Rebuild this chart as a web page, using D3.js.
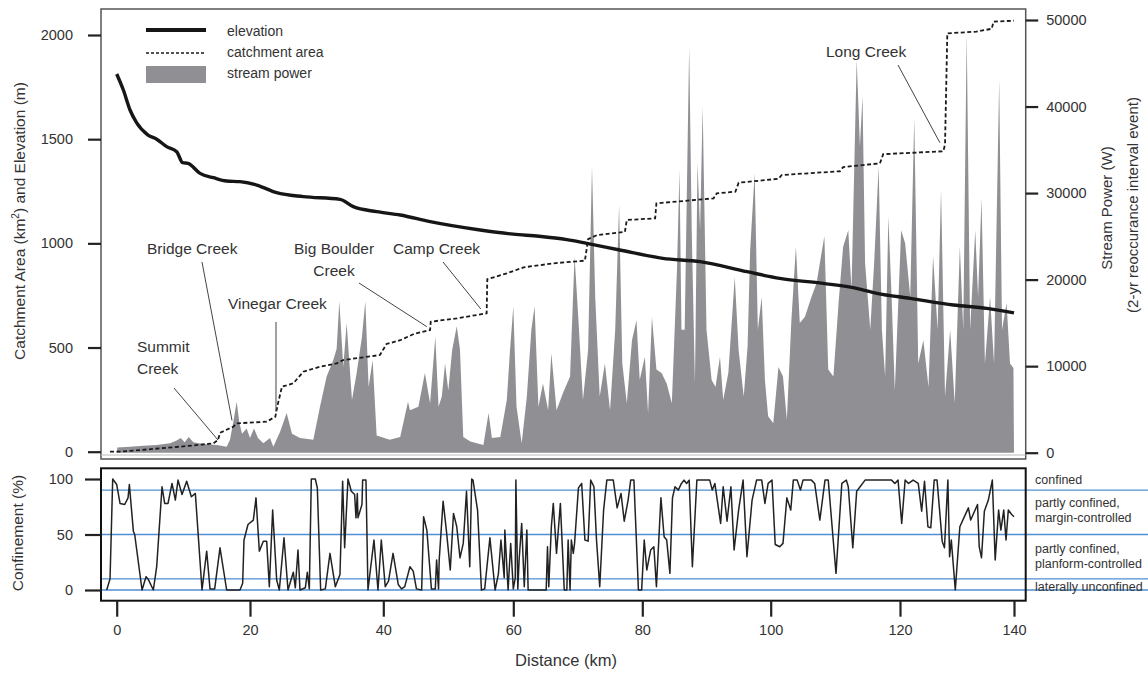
<!DOCTYPE html>
<html>
<head>
<meta charset="utf-8">
<script src="https://cdn.jsdelivr.net/npm/d3@7/dist/d3.min.js"></script>
<style>
body{margin:0;background:#fff;}
svg text{font-family:"Liberation Sans",Arial,sans-serif;fill:#333;}
</style>
</head>
<body>
<script>
// [distance km, elevation m]
const elevation = [[0,1813],[1,1736],[2,1640],[3,1578],[4.7,1520],[6,1500],[7.5,1464],[9,1440],[9.9,1387],[10.7,1384],
  [12.5,1336],[14.5,1315],[16.5,1299],[18.5,1296],[21,1280],[24,1243],[28,1224],[33.5,1211],[35.5,1176],[39,1152],
  [42.6,1136],[47.2,1104],[54.9,1064],[60,1044],[64,1034],[68.3,1018],[71.4,1000],[76.5,968],[83.2,928],[89,912],
  [96.3,864],[101.4,832],[108.1,808],[113.3,784],[116.4,760],[121.8,736],[129.4,704],[135.2,688],[140,666]];

// [distance km, catchment area km2]
const catchment = [[-1,0],[0.5,0],[6.5,16],[10.5,27],[14.5,40],[15.2,56],[15.5,91],[17.5,120],[18,136],[22.5,144],
  [23.8,168],[24.2,232],[24.8,312],[26.5,328],[28,384],[30.5,408],[33,424],[34,440],[39.5,464],[40.5,517],
  [42.6,535],[44.7,565],[47.2,584],[47.3,624],[51.3,640],[55.9,664],[56,828],[59,856],[61.6,885],[66.2,904],
  [71.1,917],[71.6,1020],[73,1040],[77.3,1055],[77.6,1112],[82,1120],[82.2,1192],[91.1,1216],[91.6,1240],[94.5,1248],
  [95,1291],[101.2,1310],[101.7,1328],[110.7,1346],[111.2,1366],[116.9,1384],[117.4,1428],[127.6,1442],[127.9,1475],
  [128.3,2008],[133.4,2016],[136.1,2030],[136.4,2064],[140,2069]];

// [distance km, stream power W]
const streamPower = [[0,0],[0.1,600],[2,700],[4,800],[6,900],[8,1100],[9,1400],[9.6,1700],[10.2,1200],[10.8,1800],
  [11.5,1200],[13,1000],[15,900],[16.5,700],[17,1500],[17.6,4000],[18,5900],[18.4,3500],[18.8,2200],[19.5,2800],
  [20,1700],[20.6,2800],[21.2,1700],[22,1100],[23,1700],[23.5,700],[24.5,2400],[25.5,4600],[26.3,2200],[27.5,1700],
  [29.5,1500],[30.5,5300],[31.5,8800],[32.5,10700],[33,12000],[33.4,17500],[34,9900],[34.5,15000],[35.3,6100],[36,9200],
  [36.8,13400],[37.3,17500],[37.8,7600],[38.4,10700],[39,2000],[41,1500],[42.6,1800],[43.8,5900],[44.1,4900],[45.4,5300],
  [46.4,9200],[47.2,5700],[48,13400],[48.5,5300],[49,6500],[49.5,10300],[50,7200],[50.6,11900],[51.3,14600],[51.8,11900],
  [52.3,1800],[53.4,1300],[55.4,900],[56.2,4600],[56.7,1700],[58,1800],[59,6100],[59.5,11900],[60,16900],[60.5,5300],
  [61.3,1100],[62.1,6500],[62.8,14200],[63.3,16900],[63.9,5300],[64.6,8000],[65.4,4900],[65.9,11500],[66.7,4900],[67.7,6900],
  [68.8,8800],[69.5,22700],[70.1,15300],[70.8,6100],[71.6,11900],[72.2,33100],[72.7,18000],[73.4,6500],[74.2,10300],[75,4900],
  [75.8,14200],[76.4,28600],[76.9,10300],[77.6,5700],[78.4,13000],[79.1,15300],[79.6,8400],[80.4,11100],[80.9,4600],[81.5,15700],
  [82.2,9600],[83,9200],[83.8,8000],[84.6,5700],[85.4,21100],[85.8,32700],[86.1,14200],[86.6,14200],[87.3,46900],[87.7,25700],
  [88.2,8000],[88.6,33500],[89,25700],[89.4,40000],[90,14200],[90.8,8400],[91.4,7600],[92.1,11100],[92.6,6100],[93.4,9200],
  [94.4,20300],[95,11900],[95.8,6500],[96.4,12300],[96.8,23400],[97.5,32300],[98,14200],[98.6,18000],[99.1,8400],[99.6,4200],
  [100.4,3400],[101.2,9900],[101.9,8800],[102.5,3800],[103.2,15300],[103.9,23800],[104.5,15000],[105.3,15700],[106.3,18000],[107.1,19600],
  [107.6,21900],[108.3,25000],[108.9,9600],[109.7,8800],[110.5,17300],[111.2,23800],[112,25700],[112.5,18800],[113.3,45400],[113.8,35400],
  [114.2,41200],[114.6,21900],[115.4,14200],[116,21900],[116.7,33100],[117.2,14200],[117.7,8800],[118.2,27300],[118.7,18000],[119.2,7200],
  [120.2,25700],[120.9,24200],[121.8,18000],[122.5,38700],[123.2,10300],[124.1,13000],[125,7600],[125.8,22700],[126.6,14200],[127.2,30400],
  [127.9,6500],[128.8,14200],[129.6,5700],[130.5,23800],[131.1,14200],[131.7,48500],[132.3,14200],[133.2,25700],[133.7,18000],[134.3,29400],
  [134.9,10300],[135.8,18000],[136.5,10300],[137.4,43100],[137.9,14200],[138.7,17300],[139.3,10300],[139.9,9800],[140,0]];

// [distance km, confinement %]
const confinement = [[-1.5,0],[-1,10],[-0.6,100],[0,95],[0.5,78],[1.2,77],[1.7,83],[1.9,95],[2.5,53],[2.7,50],
  [3.8,0],[4.4,12],[4.7,10],[5.5,0],[6,21],[6.8,93],[7.2,78],[7.7,78],[8.3,96],[8.8,81],[9.2,99],[9.8,86],[10.5,98],
  [11.2,84],[11.8,87],[12.8,0],[13.5,35],[14,1],[14.7,1],[15.5,38],[16.5,0],[18.5,0],[18.9,6],[19.1,45],[19.7,59],
  [20.5,63],[20.9,83],[21.4,35],[22,44],[22.5,44],[22.9,3],[23.4,72],[24,9],[24.4,0],[25.1,47],[25.7,0],[26.5,16],
  [26.8,2],[27.2,36],[27.5,0],[28.3,2],[28.6,16],[28.9,1],[29.2,100],[29.8,100],[30.1,92],[30.6,0],[31.3,1],[32,33],
  [32.8,3],[33.5,14],[33.9,98],[34.2,38],[34.7,100],[35.2,89],[35.7,86],[35.9,65],[36.1,87],[36.2,65],[36.8,77],
  [36.9,99],[37.4,99],[37.7,0],[38.6,45],[39.2,0],[39.7,45],[40.3,3],[40.8,8],[41.5,33],[42.3,5],[42.8,1],[43.3,3],
  [44.1,21],[44.6,17],[45.1,1],[45.9,0],[46.2,66],[46.7,54],[47.4,1],[48,1],[48.2,27],[48.5,1],[48.6,27],[49.2,80],
  [49.7,54],[50.3,18],[50.8,69],[51.3,57],[51.8,29],[52.3,42],[52.8,89],[53.3,21],[53.6,100],[53.8,99],[54.5,72],
  [55.1,0],[55.6,1],[56.4,47],[57.2,0],[57.7,14],[58.1,45],[58.6,11],[58.7,54],[59.2,0],[59.6,42],[60,1],[60.3,11],
  [60.4,99],[60.7,1],[60.9,27],[61.3,60],[61.7,3],[62.1,54],[62.3,0],[65.1,0],[65.3,39],[65.5,3],[65.9,57],[66.2,78],
  [66.7,33],[67.3,78],[67.9,0],[68.3,0],[68.5,45],[68.8,0],[69,45],[69.3,33],[69.5,42],[70.1,92],[70.6,96],[71.1,45],
  [71.6,44],[72,99],[72.5,93],[72.9,45],[73.4,3],[74,72],[74.5,99],[75.5,99],[76.1,74],[76.7,87],[77.2,62],[77.8,81],
  [78.2,99],[78.7,99],[79.4,0],[79.9,0],[80.3,45],[80.7,18],[81.3,36],[81.8,39],[82.2,3],[82.9,83],[83.4,48],[83.8,45],
  [84.3,15],[84.7,83],[85.1,93],[85.6,90],[86.1,96],[86.5,99],[86.9,96],[87.3,99],[87.8,21],[88.5,99],[90.5,99],
  [90.9,90],[91.3,96],[92.2,60],[92.6,93],[93.2,62],[93.8,93],[94.3,36],[95,72],[95.7,99],[96.3,30],[97.1,81],[97.8,99],
  [98.6,99],[99.1,78],[99.6,96],[100.2,99],[100.7,41],[101.4,39],[101.9,42],[102.5,83],[103.1,72],[103.5,99],[104.1,99],
  [104.6,90],[105,99],[106.3,99],[106.8,96],[107.6,63],[108.4,99],[108.9,99],[110.1,15],[111,96],[111.7,99],[112,93],
  [112.7,38],[113.3,89],[114.6,99],[118.7,99],[119.2,96],[119.7,99],[120.3,60],[120.9,99],[121.5,96],[122.3,99],
  [123.2,96],[123.8,71],[124.3,98],[124.9,57],[125.4,56],[126,99],[126.5,99],[127.4,44],[127.8,38],[128.4,99],[128.7,30],
  [129,45],[129.7,0],[130.5,57],[131.2,65],[132,74],[132.4,63],[133.6,77],[133.9,39],[134.3,29],[134.8,71],[135.5,81],
  [136.2,99],[136.7,27],[137.3,72],[137.7,54],[138.2,72],[138.6,45],[139,72],[139.6,68],[140,66]];

const areaTicks = [0, 500, 1000, 1500, 2000];
const powerTicks = [0, 10000, 20000, 30000, 40000, 50000];
const distTicks = [0, 20, 40, 60, 80, 100, 120, 140];
const confTicks = [0, 50, 100];
const classBreaks = [90, 50, 10, 0];
const classLabels = [["confined"], ["partly confined,", "margin-controlled"], ["partly confined,", "planform-controlled"], ["laterally unconfined"]];
const creeks = [
  {name: ["Summit", "Creek"], km: 15.2, area: 56},
  {name: ["Bridge Creek"], km: 17.3, area: 150},
  {name: ["Vinegar Creek"], km: 23.9, area: 192},
  {name: ["Big Boulder", "Creek"], km: 46.7, area: 600},
  {name: ["Camp Creek"], km: 55.0, area: 685},
  {name: ["Long Creek"], km: 127.0, area: 1483}
];

const W = 1148, H = 673;
const left = 101, right = 1025.7;
const topY0 = 9, topY1 = 459, botY0 = 468.3, botY1 = 600.7;
const grey = "#909094";

const svg = d3.select("body").append("svg").attr("width", W).attr("height", H);

// the distance ticks in the original are not evenly spaced, so map each one
const x = d3.scaleLinear().domain(distTicks).range([116.7, 250, 383.3, 513.3, 642.3, 770.7, 900, 1014]);
const yArea = d3.scaleLinear().domain([0, 2000]).range([451.7, 35]);
const yPow = d3.scaleLinear().domain([0, 50000]).range([452.7, 20]);
const yConf = d3.scaleLinear().domain([0, 100]).range([590, 479]);

// ---- top panel
const powerArea = d3.area().x(d => x(d[0])).y0(yPow(0)).y1(d => yPow(d[1]));
svg.append("path").datum(streamPower).attr("d", powerArea).attr("fill", grey);

const areaLine = d3.line().x(d => x(d[0])).y(d => yArea(d[1]));
svg.append("path").datum(catchment).attr("d", areaLine)
  .attr("fill", "none").attr("stroke", "#1a1a1a").attr("stroke-width", 1.8).attr("stroke-dasharray", "4,2.5");

svg.append("path").datum(elevation).attr("d", areaLine.curve(d3.curveMonotoneX))
  .attr("fill", "none").attr("stroke", "#161616").attr("stroke-width", 3.4).attr("stroke-linejoin", "round");

svg.append("rect").attr("x", left).attr("y", topY0).attr("width", right - left).attr("height", topY1 - topY0)
  .attr("fill", "none").attr("stroke", "#555").attr("stroke-width", 1.5);
svg.append("line").attr("x1", left).attr("x2", right).attr("y1", topY1 - 4).attr("y2", topY1 - 4)
  .attr("stroke", "#bbb").attr("stroke-width", 1);

function styleAxis(g, size) {
  g.select(".domain").remove();
  g.selectAll(".tick line").attr("stroke", "#222").attr("stroke-width", 2.2);
  g.selectAll(".tick text").style("font-size", size + "px").attr("fill", "#333");
}

svg.append("g").attr("transform", `translate(${left},0)`)
  .call(d3.axisLeft(yArea).tickValues(areaTicks).tickSize(13).tickPadding(15).tickFormat(d3.format("d")))
  .call(g => styleAxis(g, 14.5));

svg.append("g").attr("transform", `translate(${right},0)`)
  .call(d3.axisRight(yPow).tickValues(powerTicks).tickSize(12.5).tickPadding(8).tickFormat(d3.format("d")))
  .call(g => styleAxis(g, 14.5));

// legend
const leg = svg.append("g");
leg.append("line").attr("x1", 146).attr("x2", 206).attr("y1", 30).attr("y2", 30)
  .attr("stroke", "#161616").attr("stroke-width", 4);
leg.append("line").attr("x1", 146).attr("x2", 206).attr("y1", 53).attr("y2", 53)
  .attr("stroke", "#1a1a1a").attr("stroke-width", 1.5).attr("stroke-dasharray", "3,2");
leg.append("rect").attr("x", 146).attr("y", 66).attr("width", 60).attr("height", 17).attr("fill", grey);
["elevation", "catchment area", "stream power"].forEach((t, i) => {
  leg.append("text").attr("x", 227).attr("y", 36 + i * 21).style("font-size", "14px").text(t);
});

// creek labels: text position, start of leader line
const labelPos = [
  {tx: 137, ty: 347, lx: 174, ly: 388, anchor: "start"},
  {tx: 147, ty: 249, lx: 202, ly: 262, anchor: "start"},
  {tx: 228, ty: 304, lx: 276, ly: 322, anchor: "start"},
  {tx: 334, ty: 249, lx: 359, ly: 283, anchor: "middle"},
  {tx: 393, ty: 249, lx: 443, ly: 262, anchor: "start"},
  {tx: 826, ty: 52, lx: 898, ly: 65, anchor: "start"}
];
creeks.forEach((c, i) => {
  const p = labelPos[i];
  svg.append("line").attr("x1", p.lx).attr("y1", p.ly).attr("x2", x(c.km)).attr("y2", yArea(c.area))
    .attr("stroke", "#444").attr("stroke-width", 1);
  c.name.forEach((n, j) => {
    svg.append("text").attr("x", p.tx).attr("y", p.ty + j * 22).attr("dy", "0.35em")
      .attr("text-anchor", p.anchor).style("font-size", "15.5px").text(n);
  });
});

svg.append("text").attr("transform", "translate(20,221) rotate(-90)").attr("text-anchor", "middle")
  .attr("dy", "0.35em").style("font-size", "15.5px")
  .html("Catchment Area (km<tspan dy='-6' style='font-size:10px'>2</tspan><tspan dy='6'>) and Elevation (m)</tspan>");
svg.append("text").attr("transform", "translate(1107,208) rotate(-90)").attr("text-anchor", "middle")
  .attr("dy", "0.35em").style("font-size", "15px").text("Stream Power (W)");
svg.append("text").attr("transform", "translate(1133,205) rotate(-90)").attr("text-anchor", "middle")
  .attr("dy", "0.35em").style("font-size", "15px").text("(2-yr reoccurance interval event)");

// ---- bottom panel
svg.selectAll(".classline").data(classBreaks).enter().append("line").attr("class", "classline")
  .attr("x1", left).attr("x2", W).attr("y1", d => yConf(d)).attr("y2", d => yConf(d))
  .attr("stroke", "#4f8fd3").attr("stroke-width", 1.3);

const confLine = d3.line().x(d => x(d[0])).y(d => yConf(d[1]));
svg.append("path").datum(confinement).attr("d", confLine)
  .attr("fill", "none").attr("stroke", "#222").attr("stroke-width", 1.5).attr("stroke-linejoin", "round");

svg.append("rect").attr("x", left).attr("y", botY0).attr("width", right - left).attr("height", botY1 - botY0)
  .attr("fill", "none").attr("stroke", "#111").attr("stroke-width", 2);

svg.append("g").attr("transform", `translate(${left},0)`)
  .call(d3.axisLeft(yConf).tickValues(confTicks).tickSize(16).tickPadding(12))
  .call(g => styleAxis(g, 14.5));

svg.append("g").attr("transform", `translate(0,${botY1})`)
  .call(d3.axisBottom(x).tickValues(distTicks).tickSize(16).tickPadding(8))
  .call(g => styleAxis(g, 14.5));

const labY = [480, 510, 556, 587];
classLabels.forEach((lines, i) => {
  lines.forEach((t, j) => {
    svg.append("text").attr("x", 1035).attr("y", labY[i] + (j - (lines.length - 1) / 2) * 14.5)
      .attr("dy", "0.35em").style("font-size", "12.5px").text(t);
  });
});

svg.append("text").attr("transform", "translate(18,533) rotate(-90)").attr("text-anchor", "middle")
  .attr("dy", "0.35em").style("font-size", "15.5px").text("Confinement (%)");
svg.append("text").attr("x", 566).attr("y", 660).attr("text-anchor", "middle")
  .attr("dy", "0.35em").style("font-size", "16.5px").text("Distance (km)");
</script>
</body>
</html>
